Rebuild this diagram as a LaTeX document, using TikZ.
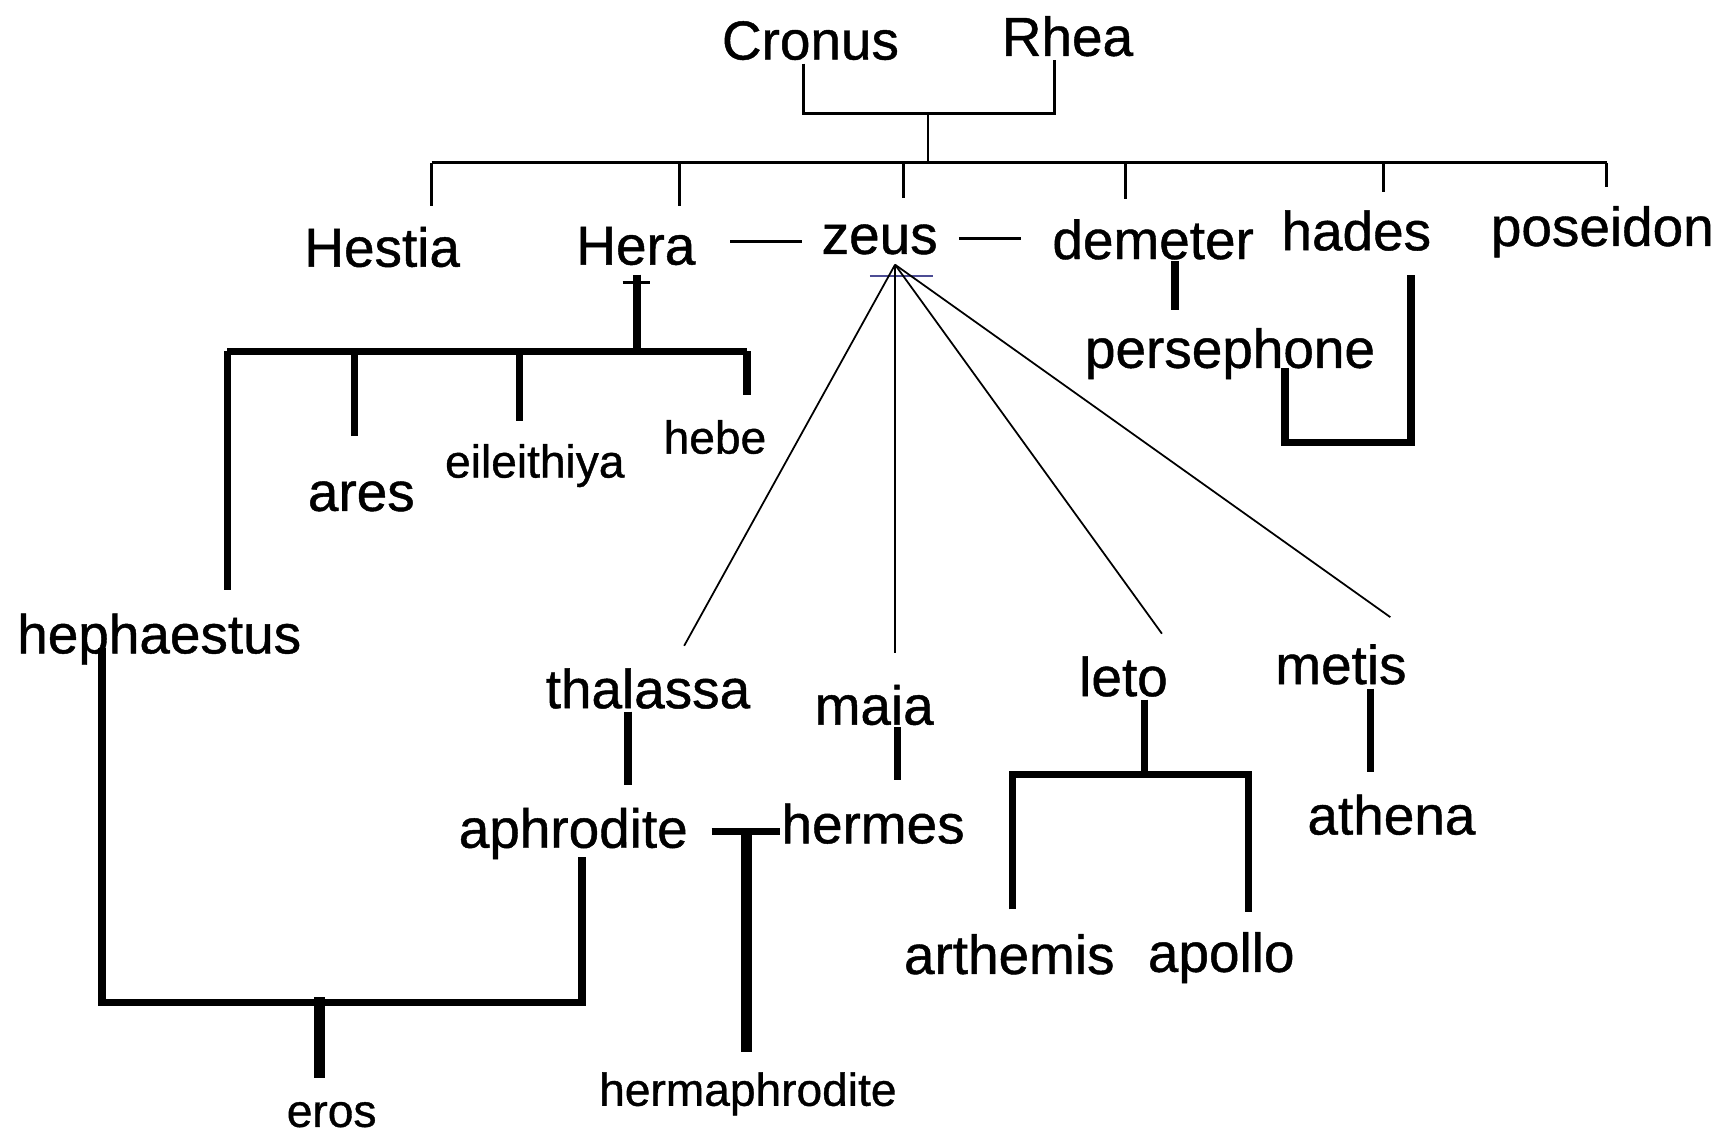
\documentclass[tikz,border=0pt]{standalone}
\usepackage{fontspec}
\setmainfont[FakeBold=0.8]{Liberation Sans}
\newfontfamily\labelfont[FakeBold=0.8]{Liberation Sans}
\begin{document}
\begin{tikzpicture}[x=0.5pt,y=-0.5pt,
  lbl/.style={inner sep=0pt, font=\labelfont\fontsize{25}{30}\selectfont},
  sml/.style={inner sep=0pt, font=\labelfont\fontsize{21}{25}\selectfont},
  thinl/.style={line width=1.3pt},
  rayl/.style={line width=0.8pt},
  thickl/.style={line width=3.4pt},
  heavyl/.style={line width=5pt},
  tickl/.style={line width=0.8pt, draw=black!60!blue!70}]
\useasboundingbox[fill=white] (0,0) rectangle (1568,1036);

% ---- nodes
\node[lbl] (cronus) at (738,37) {Cronus};
\node[lbl] (rhea) at (972,33) {Rhea};
\node[lbl] (hestia) at (348,225) {Hestia};
\node[lbl] (hera) at (579,224) {Hera};
\node[lbl] (zeus) at (801,218) {zeus};
\node[lbl] (demeter) at (1050,218) {demeter};
\node[lbl] (hades) at (1235,210) {hades};
\node[lbl] (poseidon) at (1459,211) {poseidon};
\node[lbl] (persephone) at (1120,322) {persephone};
\node[lbl] (ares) at (329,452) {ares};
\node[sml] (eileithiya) at (487,424) {eileithiya};
\node[sml] (hebe) at (651,398) {hebe};
\node[lbl] (hephaestus) at (145,582) {hephaestus};
\node[lbl] (thalassa) at (590,627) {thalassa};
\node[lbl] (maia) at (796,642) {maia};
\node[lbl] (leto) at (1023,616) {leto};
\node[lbl] (metis) at (1221,605) {metis};
\node[lbl] (aphrodite) at (522,759) {aphrodite};
\node[lbl] (hermes) at (795,750) {hermes};
\node[lbl] (athena) at (1267,742) {athena};
\node[lbl] (arthemis) at (919,869) {arthemis};
\node[lbl] (apollo) at (1112,872) {apollo};
\node[sml] (eros) at (302,1015) {eros};
\node[sml] (hermaphrodite) at (681,996) {hermaphrodite};

% ---- Cronus & Rhea
\coordinate (crj) at (732,103);
\coordinate (rhj) at (960,103);
\coordinate (crtop) at (732,58);
\coordinate (rhtop) at (960,55);
\coordinate (mid) at (845,103);
\coordinate (bar) at (845,148);
\draw[thinl] (crtop) -- (crj) -- (rhj) -- (rhtop);
\draw[thinl] (mid) -- (bar);
\coordinate (barL) at (393,148);
\coordinate (barR) at (1463,148);
\draw[thinl] (barL) -- (barR);
\coordinate (dHestia) at (393,188);
\coordinate (dHera) at (619,188);
\coordinate (dZeus) at (823,180);
\coordinate (dDemeter) at (1025,181);
\coordinate (dHades) at (1260,175);
\coordinate (dPoseidon) at (1463,170);
\foreach \d in {dHestia,dHera,dZeus,dDemeter,dHades,dPoseidon}
  \draw[thinl] (\d |- barL) -- (\d);

% ---- marriages
\coordinate (hz1) at (665,220);
\coordinate (hz2) at (730,220);
\draw[thinl] (hz1) -- (hz2);
\coordinate (zd1) at (873,217);
\coordinate (zd2) at (930,217);
\draw[thinl] (zd1) -- (zd2);

% ---- Zeus rays
\coordinate (apex) at (815,241);
\coordinate (zt1) at (792,251);
\coordinate (zt2) at (850,251);
\draw[tickl] (zt1) -- (zt2);
\coordinate (rThal) at (623,588);
\coordinate (rMaia) at (815,595);
\coordinate (rLeto) at (1058,577);
\coordinate (rMetis) at (1266,562);
\foreach \r in {rThal,rMaia,rLeto,rMetis}
  \draw[rayl] (apex) -- (\r);

% ---- Hera's children
\coordinate (heraTop) at (580,250);
\coordinate (heraJ) at (580,320);
\coordinate (ht1) at (567,257);
\coordinate (ht2) at (592,257);
\draw[thickl] (heraTop) -- (heraJ);
\draw[thinl] (ht1) -- (ht2);
\coordinate (hbL) at (207,320);
\coordinate (hbR) at (680,320);
\draw[thickl] (hbL) -- (hbR);
\coordinate (dHeph) at (207,537);
\coordinate (dAres) at (323,397);
\coordinate (dEil) at (473,383);
\coordinate (dHebe) at (680,360);
\foreach \d in {dHeph,dAres,dEil,dHebe}
  \draw[thickl] (\d |- hbL) -- (\d);

% ---- Demeter, Persephone, Hades
\coordinate (dp1) at (1070,238);
\coordinate (dp2) at (1070,282);
\draw[thickl] (dp1) -- (dp2);
\coordinate (pu1) at (1170,335);
\coordinate (pu2) at (1170,403);
\coordinate (pu3) at (1285,403);
\coordinate (pu4) at (1285,250);
\draw[thickl] (pu1) -- (pu2) -- (pu3) -- (pu4);

% ---- mothers to children
\coordinate (ta1) at (572,648);
\coordinate (ta2) at (572,715);
\draw[thickl] (ta1) -- (ta2);
\coordinate (mh1) at (817,662);
\coordinate (mh2) at (817,710);
\draw[thickl] (mh1) -- (mh2);
\coordinate (lt1) at (1042,637);
\coordinate (lt2) at (1042,705);
\draw[thickl] (lt1) -- (lt2);
\coordinate (lbL) at (922,705);
\coordinate (lbR) at (1137,705);
\coordinate (dArt) at (922,828);
\coordinate (dApo) at (1137,830);
\draw[thickl] (dArt) -- (lbL) -- (lbR) -- (dApo);
\coordinate (ma1) at (1248,627);
\coordinate (ma2) at (1248,703);
\draw[thickl] (ma1) -- (ma2);

% ---- Aphrodite & Hermes
\coordinate (ah1) at (648,757);
\coordinate (ah2) at (710,757);
\coordinate (ahj) at (680,757);
\coordinate (dHerm) at (680,958);
\draw[thickl] (ah1) -- (ah2);
\draw[heavyl] (ahj) -- (dHerm);

% ---- Hephaestus & Aphrodite
\coordinate (he1) at (93,590);
\coordinate (he2) at (93,913);
\coordinate (he3) at (530,913);
\coordinate (he4) at (530,780);
\draw[thickl] (he1) -- (he2) -- (he3) -- (he4);
\coordinate (er1) at (291,908);
\coordinate (er2) at (291,982);
\draw[heavyl] (er1) -- (er2);
\end{tikzpicture}
\end{document}
